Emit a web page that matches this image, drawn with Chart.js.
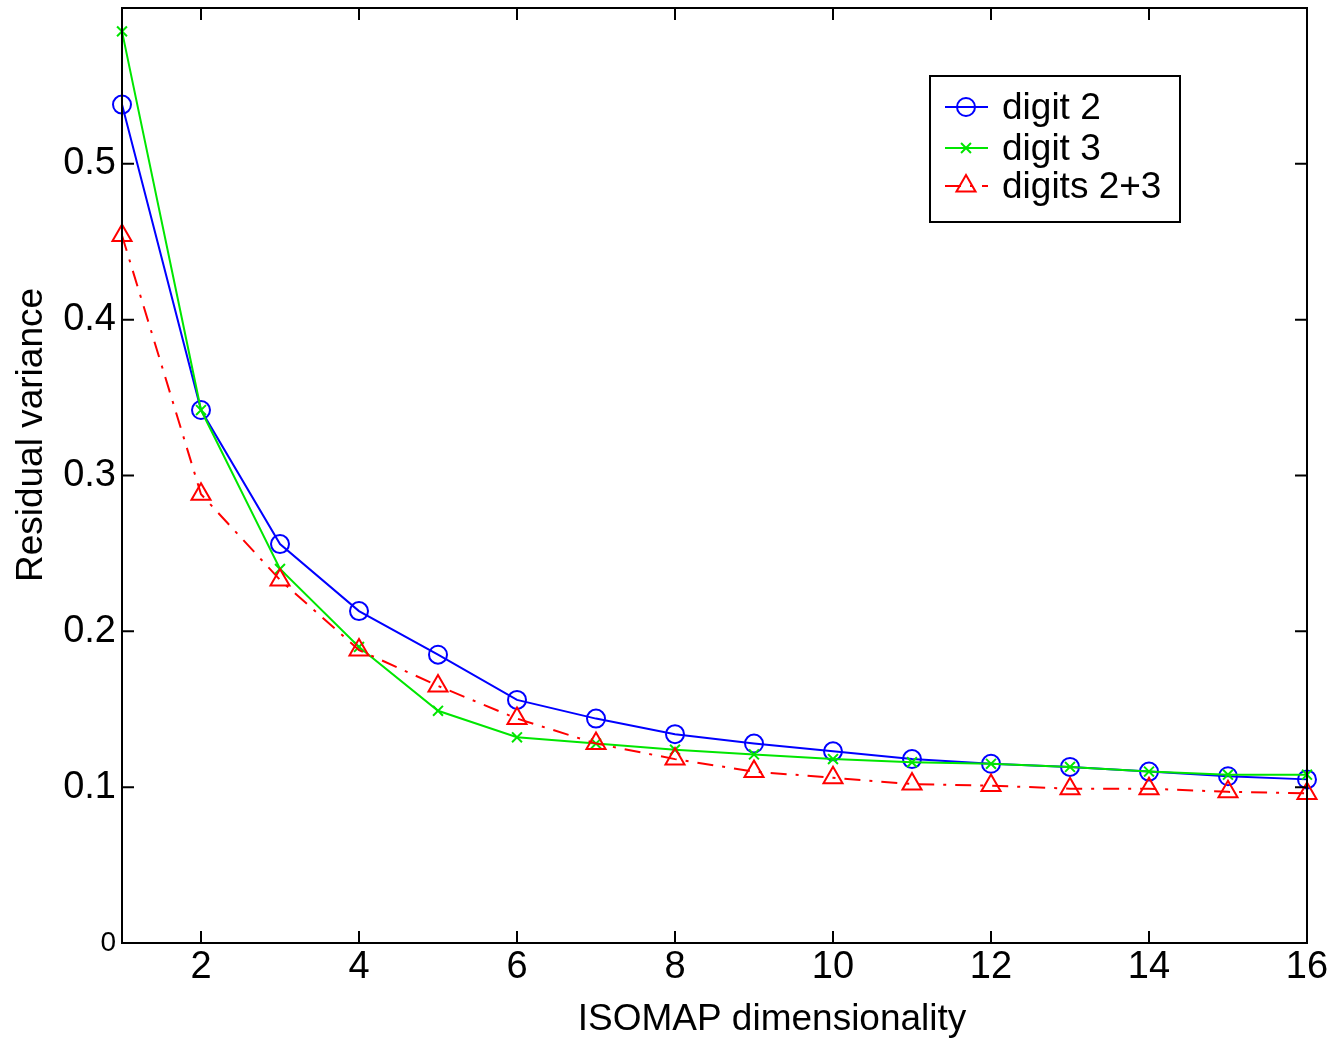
<!DOCTYPE html>
<html>
<head>
<meta charset="utf-8">
<title>Residual variance vs ISOMAP dimensionality</title>
<script src="https://cdn.jsdelivr.net/npm/chart.js@4/dist/chart.umd.min.js"></script>
<style>
  body { margin: 0; background: #fff; }
  canvas { display: block; }
</style>
</head>
<body>
<canvas id="myChart" width="1341" height="1041"></canvas>
<script>
'use strict';

// x values (dimensionality)
let dims = [1, 2, 3, 4, 5, 6, 7, 8, 9, 10, 11, 12, 13, 14, 15, 16];

// residual variance for each series
let digit2 = [0.538, 0.342, 0.256, 0.213, 0.185, 0.156, 0.144, 0.134, 0.128, 0.123, 0.118, 0.115, 0.113, 0.110, 0.107, 0.105];
let digit3 = [0.585, 0.342, 0.240, 0.190, 0.149, 0.132, 0.128, 0.124, 0.121, 0.118, 0.116, 0.115, 0.113, 0.110, 0.108, 0.108];
let digits23 = [0.454, 0.288, 0.233, 0.188, 0.165, 0.144, 0.128, 0.118, 0.110, 0.106, 0.102, 0.101, 0.099, 0.099, 0.097, 0.096];

let seriesNames = ['digit 2', 'digit 3', 'digits 2+3'];

// tick labels
let xTicks = [2, 4, 6, 8, 10, 12, 14, 16];
let yTicks = [0, 0.1, 0.2, 0.3, 0.4, 0.5];

let xTitle = 'ISOMAP dimensionality';
let yTitle = 'Residual variance';

const FONT = '"Liberation Sans", Arial, Helvetica, sans-serif';

function toPoints(values) {
  return values.map((v, i) => ({ x: dims[i], y: v }));
}

// inward ticks on all four sides + top/right border
const boxTicks = {
  id: 'boxTicks',
  afterDraw(chart) {
    const ctx = chart.ctx;
    const a = chart.chartArea;
    const xs = chart.scales.x;
    const ys = chart.scales.y;
    const len = 12;
    ctx.save();
    ctx.strokeStyle = '#000';
    ctx.lineWidth = 2;
    ctx.strokeRect(a.left, a.top, a.right - a.left, a.bottom - a.top);
    ctx.beginPath();
    xTicks.forEach(v => {
      let px = xs.getPixelForValue(v);
      ctx.moveTo(px, a.bottom);
      ctx.lineTo(px, a.bottom - len);
      ctx.moveTo(px, a.top);
      ctx.lineTo(px, a.top + len);
    });
    yTicks.forEach(v => {
      let py = ys.getPixelForValue(v);
      ctx.moveTo(a.left, py);
      ctx.lineTo(a.left + len, py);
      ctx.moveTo(a.right, py);
      ctx.lineTo(a.right - len, py);
    });
    ctx.stroke();

    // axis titles
    ctx.fillStyle = '#000';
    ctx.font = '37px ' + FONT;
    ctx.textAlign = 'center';
    ctx.textBaseline = 'middle';
    ctx.fillText(xTitle, a.left + 650, a.bottom + 77);
    ctx.translate(32, a.top + 427);
    ctx.rotate(-Math.PI / 2);
    ctx.fillText(yTitle, 0, 0);
    ctx.restore();
  }
};

// matlab style legend box
const boxLegend = {
  id: 'boxLegend',
  afterDraw(chart) {
    const ctx = chart.ctx;
    const a = chart.chartArea;
    const bx = a.left + 808;
    const by = a.top + 68;
    const bw = 250;
    const bh = 146;
    ctx.save();
    ctx.fillStyle = '#fff';
    ctx.fillRect(bx, by, bw, bh);
    ctx.strokeStyle = '#000';
    ctx.lineWidth = 2;
    ctx.strokeRect(bx, by, bw, bh);

    const rows = [31, 72, 110];
    chart.data.datasets.forEach((ds, i) => {
      let y = by + rows[i];
      ctx.save();
      ctx.strokeStyle = ds.borderColor;
      ctx.lineWidth = ds.borderWidth;
      ctx.setLineDash(ds.borderDash || []);
      ctx.beginPath();
      ctx.moveTo(bx + 15, y);
      ctx.lineTo(bx + 58, y);
      ctx.stroke();
      ctx.setLineDash([]);
      ctx.strokeStyle = ds.pointBorderColor;
      ctx.fillStyle = 'rgba(0,0,0,0)';
      Chart.helpers.drawPoint(ctx, {
        pointStyle: ds.pointStyle,
        radius: ds.pointRadius,
        borderWidth: ds.pointBorderWidth
      }, bx + 36, y);
      ctx.restore();
      ctx.fillStyle = '#000';
      ctx.font = '37px ' + FONT;
      ctx.textBaseline = 'middle';
      ctx.textAlign = 'left';
      ctx.fillText(seriesNames[i], bx + 72, y + 2);
    });
    ctx.restore();
  }
};

const ctx = document.getElementById('myChart').getContext('2d');

let myChart = new Chart(ctx, {
  type: 'line',
  data: {
    datasets: [{
      label: seriesNames[0],
      data: toPoints(digit2),
      borderColor: '#0000ff',
      backgroundColor: 'rgba(0,0,0,0)',
      borderWidth: 2,
      pointStyle: 'circle',
      pointRadius: 9,
      pointBorderWidth: 2,
      pointBorderColor: '#0000ff',
      pointBackgroundColor: 'rgba(0,0,0,0)',
      order: 3,
      clip: false
    }, {
      label: seriesNames[1],
      data: toPoints(digit3),
      borderColor: '#00e600',
      backgroundColor: 'rgba(0,0,0,0)',
      borderWidth: 2,
      pointStyle: 'crossRot',
      pointRadius: 7,
      pointBorderWidth: 2,
      pointBorderColor: '#00e600',
      order: 2,
      clip: false
    }, {
      label: seriesNames[2],
      data: toPoints(digits23),
      borderColor: '#ff0000',
      backgroundColor: 'rgba(0,0,0,0)',
      borderWidth: 2,
      borderDash: [16, 9, 3, 9],
      pointStyle: 'triangle',
      pointRadius: 11,
      pointBorderWidth: 2,
      pointBorderColor: '#ff0000',
      pointBackgroundColor: 'rgba(0,0,0,0)',
      order: 1,
      clip: false
    }]
  },
  options: {
    responsive: false,
    animation: false,
    devicePixelRatio: 1,
    layout: {
      autoPadding: false,
      padding: { top: 8, right: 34, left: 0, bottom: 0 }
    },
    plugins: {
      legend: { display: false },
      tooltip: { enabled: false }
    },
    scales: {
      x: {
        type: 'linear',
        min: 1,
        max: 16,
        afterBuildTicks: scale => { scale.ticks = xTicks.map(v => ({ value: v })); },
        afterFit: scale => {
          scale.height = 98;
          scale.paddingLeft = 0;
          scale.paddingRight = 0;
        },
        grid: { display: false, drawTicks: false },
        border: { display: true, color: '#000', width: 2 },
        ticks: {
          color: '#000',
          padding: 2,
          maxRotation: 0,
          autoSkip: false,
          font: { family: FONT, size: 38 }
        }
      },
      y: {
        type: 'linear',
        min: 0,
        max: 0.6,
        afterBuildTicks: scale => { scale.ticks = yTicks.map(v => ({ value: v })); },
        afterFit: scale => {
          scale.width = 122;
          scale.paddingTop = 0;
          scale.paddingBottom = 0;
        },
        grid: { display: false, drawTicks: false },
        border: { display: true, color: '#000', width: 2 },
        ticks: {
          color: '#000',
          padding: 6,
          autoSkip: false,
          callback: v => (v === 0 ? '0' : v.toFixed(1)),
          font: c => ({ family: FONT, size: (c.tick && c.tick.value === 0) ? 28 : 38 })
        }
      }
    }
  },
  plugins: [boxTicks, boxLegend]
});
</script>
</body>
</html>
